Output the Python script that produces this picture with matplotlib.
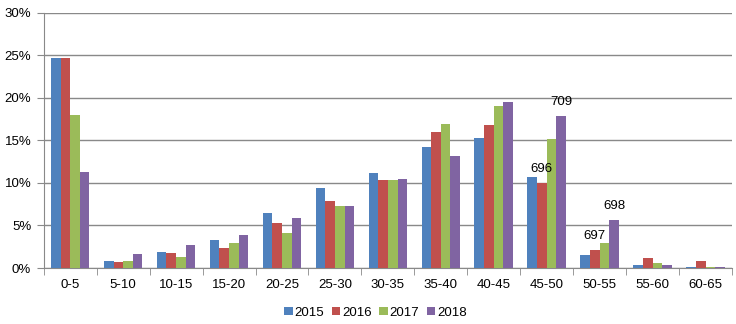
import numpy as np
import matplotlib
matplotlib.use("Agg")
import matplotlib.pyplot as plt
from matplotlib.ticker import FuncFormatter, MultipleLocator

plt.rcParams['font.family'] = ['Liberation Sans', 'DejaVu Sans']

# age groups and share of each year (%)
categories = ["0-5", "5-10", "10-15", "15-20", "20-25", "25-30", "30-35",
              "35-40", "40-45", "45-50", "50-55", "55-60", "60-65"]
years = ["2015", "2016", "2017", "2018"]
v2015 = [24.7, 0.82, 1.88, 3.29, 6.46, 9.40, 11.16, 14.22, 15.28, 10.69, 1.53, 0.35, 0.12]
v2016 = [24.7, 0.70, 1.76, 2.35, 5.29, 7.87, 10.34, 15.98, 16.80, 9.95, 2.12, 1.18, 0.82]
v2017 = [17.98, 0.82, 1.29, 2.94, 4.11, 7.29, 10.34, 16.92, 19.04, 15.16, 2.94, 0.59, 0.12]
v2018 = [11.28, 1.65, 2.70, 3.88, 5.88, 7.29, 10.46, 13.16, 19.50, 17.86, 5.64, 0.35, 0.12]
series = [v2015, v2016, v2017, v2018]
colors = ["#4F81BD", "#C0504D", "#9BBB59", "#8064A2"]

# labels written above some bars: (category, year, text)
notes = [("45-50", "2016", "696"), ("45-50", "2018", "709"),
         ("50-55", "2016", "697"), ("50-55", "2018", "698")]

fig = plt.figure(figsize=(7.36, 3.24), dpi=100)
ax = fig.add_axes([0.0594, 0.1728, 0.9352, 0.7882])

x = np.arange(len(categories))
w = 0.182
for i, (vals, c, yr) in enumerate(zip(series, colors, years)):
    ax.bar(x + (i - 1.5) * w, vals, width=w, color=c, label=yr, zorder=3)

for cat, yr, txt in notes:
    ci = categories.index(cat)
    yi = years.index(yr)
    ax.annotate(txt, (ci + (yi - 1.5) * w, series[yi][ci]), xytext=(0, 6),
                textcoords="offset points", ha="center", va="bottom", fontsize=9.5)

ax.set_xlim(-0.5, len(categories) - 0.5)
ax.set_ylim(0, 30)
ax.yaxis.set_major_locator(MultipleLocator(5))
ax.yaxis.set_major_formatter(FuncFormatter(lambda v, p: f"{v:.0f}%"))
ax.grid(axis="y", color="#898989", linewidth=1, zorder=0)

ax.set_xticks(x)
ax.set_xticklabels(categories)
ax.set_xticks(np.arange(len(categories) + 1) - 0.5, minor=True)
ax.tick_params(axis="x", which="major", length=0, pad=8, labelsize=9.5)
ax.tick_params(axis="x", which="minor", length=5, color="#898989")
ax.tick_params(axis="y", length=5, color="#898989", labelsize=9.5, pad=4)

for s in ["top", "right"]:
    ax.spines[s].set_visible(False)
for s in ["left", "bottom"]:
    ax.spines[s].set_color("#898989")

ax.legend(loc="center", bbox_to_anchor=(0.482, -0.175), ncol=4, frameon=False,
          fontsize=9.5, handlelength=0.65, handleheight=0.65, handletextpad=0.15,
          columnspacing=0.55)

fig.savefig("out.png", dpi=100)
